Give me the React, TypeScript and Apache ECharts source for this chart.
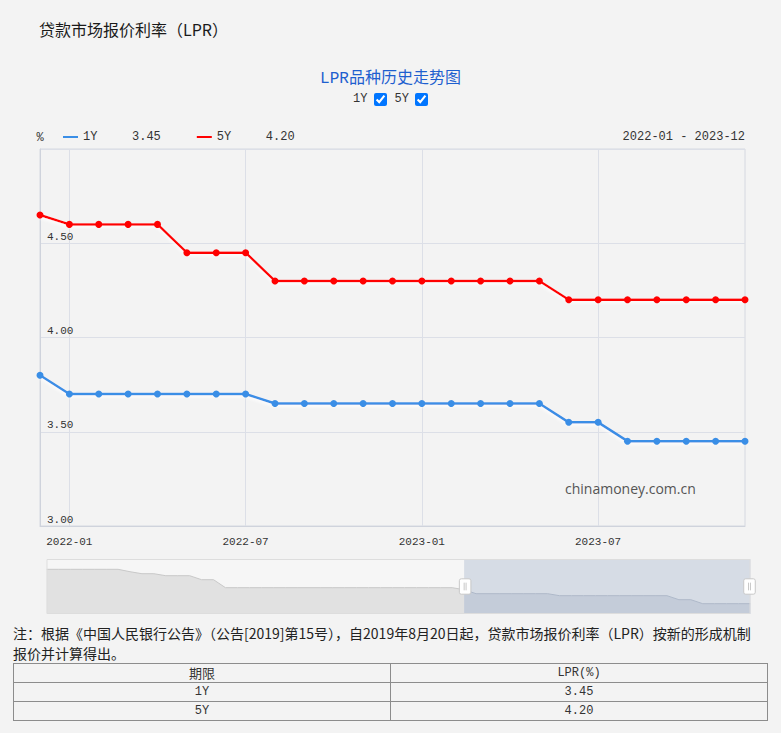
import React, { useEffect, useRef } from 'react';
import * as echarts from 'echarts';

const MONTHS = [
  '2019-01','2019-02','2019-03','2019-04','2019-05','2019-06','2019-07','2019-08','2019-09','2019-10','2019-11','2019-12',
  '2020-01','2020-02','2020-03','2020-04','2020-05','2020-06','2020-07','2020-08','2020-09','2020-10','2020-11','2020-12',
  '2021-01','2021-02','2021-03','2021-04','2021-05','2021-06','2021-07','2021-08','2021-09','2021-10','2021-11','2021-12',
  '2022-01','2022-02','2022-03','2022-04','2022-05','2022-06','2022-07','2022-08','2022-09','2022-10','2022-11','2022-12',
  '2023-01','2023-02','2023-03','2023-04','2023-05','2023-06','2023-07','2023-08','2023-09','2023-10','2023-11','2023-12',
];

const LPR_1Y = [
  4.31, 4.31, 4.31, 4.31, 4.31, 4.31, 4.31, 4.25, 4.20, 4.20, 4.15, 4.15,
  4.15, 4.05, 4.05, 3.85, 3.85, 3.85, 3.85, 3.85, 3.85, 3.85, 3.85, 3.85,
  3.85, 3.85, 3.85, 3.85, 3.85, 3.85, 3.85, 3.85, 3.85, 3.85, 3.85, 3.80,
  3.70, 3.70, 3.70, 3.70, 3.70, 3.70, 3.70, 3.65, 3.65, 3.65, 3.65, 3.65,
  3.65, 3.65, 3.65, 3.65, 3.65, 3.55, 3.55, 3.45, 3.45, 3.45, 3.45, 3.45,
];

const LPR_5Y = [
  null, null, null, null, null, null, null, 4.85, 4.85, 4.85, 4.80, 4.80,
  4.80, 4.75, 4.75, 4.65, 4.65, 4.65, 4.65, 4.65, 4.65, 4.65, 4.65, 4.65,
  4.65, 4.65, 4.65, 4.65, 4.65, 4.65, 4.65, 4.65, 4.65, 4.65, 4.65, 4.65,
  4.60, 4.60, 4.60, 4.60, 4.45, 4.45, 4.45, 4.30, 4.30, 4.30, 4.30, 4.30,
  4.30, 4.30, 4.30, 4.30, 4.30, 4.20, 4.20, 4.20, 4.20, 4.20, 4.20, 4.20,
];

const SERIES_NAMES = ['1Y', '5Y'];
const SERIES_COLORS = ['#3a8ee6', '#ff0000'];
const LATEST: Record<string, string> = { '1Y': '3.45', '5Y': '4.20' };
const WINDOW_START = '2021-12';
const WINDOW_END = '2023-12';
const RANGE_LABEL = '2022-01 - 2023-12';
const Y_MIN = 3;
const Y_MAX = 5;
const Y_STEP = 0.5;
const TABLE_HEAD = ['期限', 'LPR(%)'];
const TABLE_ROWS = [['1Y', '3.45'], ['5Y', '4.20']];

const PAGE_TITLE = '贷款市场报价利率（LPR）';
const CHART_TITLE = 'LPR品种历史走势图';
const NOTE_LINE1 = '注：根据《中国人民银行公告》（公告[2019]第15号），自2019年8月20日起，贷款市场报价利率（LPR）按新的形成机制';
const NOTE_LINE2 = '报价并计算得出。';

const FONT = "'Liberation Mono', 'Noto Sans CJK SC', monospace";
const CJK = "'Noto Sans CJK SC', sans-serif";

export default function App() {
  const ref = useRef<HTMLDivElement>(null);

  useEffect(() => {
    if (!ref.current) return;
    const chart = echarts.init(ref.current, null, { renderer: 'svg' });
    const startIdx = MONTHS.indexOf(WINDOW_START);
    const endIdx = MONTHS.indexOf(WINDOW_END);
    const labelEvery = (i: number) => i % 6 === 0;
    chart.setOption({
      animation: false,
      backgroundColor: 'transparent',
      textStyle: { fontFamily: FONT },
      title: {
        text: CHART_TITLE,
        left: 'center',
        top: 66,
        textStyle: { color: '#1e5fcf', fontSize: 16, fontWeight: 'normal', fontFamily: FONT },
      },
      legend: {
        left: 63,
        top: 131,
        padding: 0,
        icon: 'rect',
        itemWidth: 15,
        itemHeight: 2,
        itemGap: 36,
        selectedMode: false,
        data: SERIES_NAMES,
        formatter: (name: string) => `{n|${name}}{v|${LATEST[name]}}`,
        textStyle: {
          color: '#333',
          fontSize: 12,
          fontFamily: FONT,
          rich: {
            n: { width: 49, fontSize: 12, fontFamily: FONT, color: '#333' },
            v: { fontSize: 12, fontFamily: FONT, color: '#333' },
          },
        },
      },
      grid: {
        left: 40,
        right: 36,
        top: 149,
        bottom: 99,
        show: true,
        borderColor: '#d5d8e0',
        borderWidth: 1,
        backgroundColor: 'transparent',
        containLabel: false,
        outerBoundsMode: 'none',
      },
      xAxis: {
        type: 'category',
        data: MONTHS,
        boundaryGap: false,
        axisLine: { show: true, lineStyle: { color: '#cfd3dc' } },
        axisTick: { show: false },
        axisLabel: { interval: labelEvery, color: '#333', fontSize: 11, margin: 10, fontFamily: FONT },
        splitLine: { show: true, interval: labelEvery, lineStyle: { color: '#dcdfe7' } },
      },
      yAxis: {
        type: 'value',
        min: Y_MIN,
        max: Y_MAX,
        interval: Y_STEP,
        name: '%',
        nameLocation: 'end',
        nameGap: 5,
        nameTextStyle: { color: '#333', fontSize: 12, fontFamily: FONT, align: 'center' },
        axisLine: { show: true, lineStyle: { color: '#cfd3dc' } },
        axisTick: { show: false },
        axisLabel: {
          inside: true,
          margin: 7,
          color: '#333',
          fontSize: 11,
          fontFamily: FONT,
          verticalAlign: 'bottom',
          showMaxLabel: false,
          padding: [0, 0, 1, 0],
          formatter: (v: number) => v.toFixed(2),
        },
        splitLine: { show: true, lineStyle: { color: '#dcdfe7' } },
      },
      dataZoom: [
        {
          type: 'slider',
          xAxisIndex: 0,
          startValue: startIdx,
          endValue: endIdx,
          left: 44,
          right: 33,
          top: 559,
          height: 55,
          borderColor: '#dddddd',
          backgroundColor: 'rgba(255,255,255,0.3)',
          fillerColor: 'rgba(167,183,204,0.4)',
          dataBackground: {
            lineStyle: { color: '#c8c8c8', width: 1 },
            areaStyle: { color: '#dcdcdc', opacity: 0.8 },
          },
          selectedDataBackground: {
            lineStyle: { color: '#b3bac6', width: 1 },
            areaStyle: { color: '#c3cad6', opacity: 0.6 },
          },
          handleIcon:
            'path://M2,0H10A2,2,0,0,1,12,2V14A2,2,0,0,1,10,16H2A2,2,0,0,1,0,14V2A2,2,0,0,1,2,0ZM5,4V12M7,4V12',
          handleSize: '28%',
          handleStyle: { color: '#ffffff', borderColor: '#c8c8c8', borderWidth: 1 },
          moveHandleSize: 0,
          moveHandleStyle: { opacity: 0 },
          showDetail: false,
          brushSelect: false,
        },
      ],
      graphic: [
        {
          type: 'text',
          left: 39,
          top: 21,
          style: { text: PAGE_TITLE, fill: '#1a1a1a', font: `16px ${CJK}` },
        },
        {
          type: 'text',
          right: 36,
          top: 131,
          style: { text: RANGE_LABEL, fill: '#333', font: `12px ${FONT}` },
        },
        {
          type: 'text',
          left: 565,
          top: 481,
          z: 100,
          style: { text: 'chinamoney.com.cn', fill: '#555', font: "14px 'Open Sans', 'Noto Sans', sans-serif" },
        },
      ],
      series: SERIES_NAMES.map((name, i) => ({
        name,
        type: 'line',
        data: i === 0 ? LPR_1Y : LPR_5Y,
        symbol: 'circle',
        symbolSize: 7,
        showSymbol: true,
        showAllSymbol: true,
        connectNulls: false,
        itemStyle: { color: SERIES_COLORS[i] },
        lineStyle: {
          width: 2.5,
          color: SERIES_COLORS[i],
          shadowColor: 'rgba(255,255,255,0.95)',
          shadowBlur: 3,
          shadowOffsetY: 2,
        },
        emphasis: { disabled: true },
      })),
    });
    return () => chart.dispose();
  }, []);

  const cell: React.CSSProperties = {
    border: '1px solid #8c8c8c',
    height: 18,
    padding: 0,
    textAlign: 'center',
    fontSize: 12,
    color: '#333',
    lineHeight: '18px',
  };

  const noteLine: React.CSSProperties = {
    position: 'absolute',
    left: 13,
    height: 20,
    fontSize: 14,
    lineHeight: '20px',
    color: '#222',
    whiteSpace: 'nowrap',
    fontFamily: CJK,
  };

  return (
    <div
      style={{
        position: 'fixed',
        left: 0,
        top: 0,
        width: 781,
        height: 733,
        background: '#f3f3f3',
        overflow: 'hidden',
        fontFamily: FONT,
      }}
    >
      <div ref={ref} style={{ position: 'absolute', left: 0, top: 0, width: 781, height: 625 }} />
      <div
        style={{
          position: 'absolute',
          top: 90,
          left: 0,
          width: 781,
          textAlign: 'center',
          fontSize: 12,
          color: '#333',
          lineHeight: '18px',
        }}
      >
        <span style={{ verticalAlign: 'middle' }}>1Y</span>
        <input type="checkbox" checked readOnly style={{ verticalAlign: 'middle', margin: '0 8px 0 6px' }} />
        <span style={{ verticalAlign: 'middle' }}>5Y</span>
        <input type="checkbox" checked readOnly style={{ verticalAlign: 'middle', margin: '0 0 0 6px' }} />
      </div>
      <div style={{ ...noteLine, top: 623 }}>{NOTE_LINE1}</div>
      <div style={{ ...noteLine, top: 643 }}>{NOTE_LINE2}</div>
      <table
        style={{
          position: 'absolute',
          top: 663,
          left: 13,
          width: 755,
          borderCollapse: 'collapse',
          border: '1.5px solid #8c8c8c',
          fontFamily: FONT,
        }}
      >
        <tbody>
          <tr>
            <td style={{ ...cell, width: '50%', fontFamily: CJK, fontSize: 13 }}>{TABLE_HEAD[0]}</td>
            <td style={cell}>{TABLE_HEAD[1]}</td>
          </tr>
          {TABLE_ROWS.map((r) => (
            <tr key={r[0]}>
              <td style={cell}>{r[0]}</td>
              <td style={cell}>{r[1]}</td>
            </tr>
          ))}
        </tbody>
      </table>
    </div>
  );
}
